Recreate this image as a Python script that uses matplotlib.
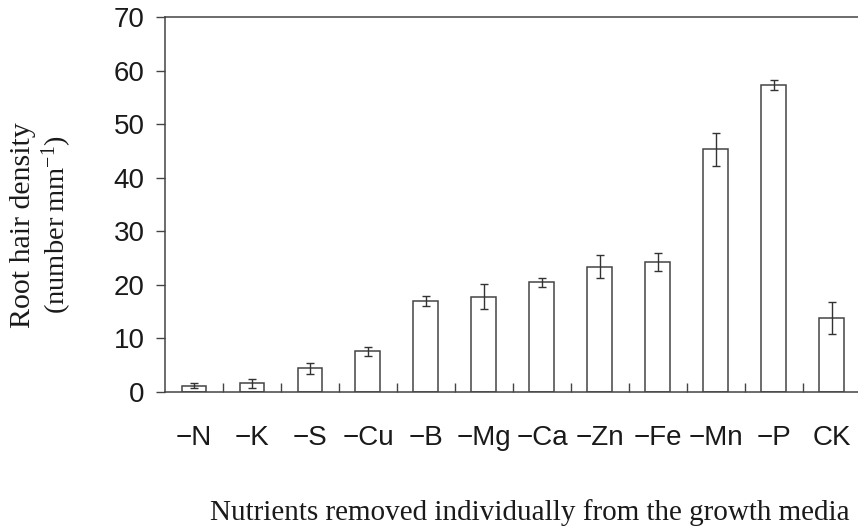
import matplotlib
matplotlib.use("Agg")
import matplotlib.pyplot as plt
from matplotlib.ticker import FixedLocator
import numpy as np

plt.rcParams["mathtext.fontset"] = "custom"
plt.rcParams["mathtext.rm"] = "Liberation Serif"
plt.rcParams["mathtext.it"] = "Liberation Serif:italic"
plt.rcParams["mathtext.bf"] = "Liberation Serif:bold"

categories = ["\u2212N", "\u2212K", "\u2212S", "\u2212Cu", "\u2212B", "\u2212Mg", "\u2212Ca",
              "\u2212Zn", "\u2212Fe", "\u2212Mn", "\u2212P", "CK"]
density = [1.2, 1.6, 4.4, 7.6, 17.0, 17.8, 20.5, 23.4, 24.3, 45.3, 57.3, 13.8]
errors = [0.4, 0.9, 1.1, 0.8, 0.9, 2.35, 0.85, 2.2, 1.65, 3.1, 0.85, 3.0]
yticks = [0, 10, 20, 30, 40, 50, 60, 70]

fig = plt.figure(figsize=(8.58, 5.31), dpi=100)
ax = fig.add_axes([0.1923, 0.2618, 0.8077, 0.7062])

x = np.arange(len(categories))
ax.bar(x, density, width=0.43, color="white", edgecolor="#444444", linewidth=1.1,
       zorder=2)
ax.errorbar(x, density, yerr=errors, fmt="none", ecolor="#333333", elinewidth=1.0,
            capsize=3.2, capthick=1.0, zorder=3)

ax.set_xlim(-0.5, 11.45)
ax.set_ylim(0, 70)
ax.set_yticks(yticks)
ax.set_yticklabels([str(t) for t in yticks], fontsize=20, family="Liberation Sans",
                   color="#1a1a1a")
ax.set_xticks(x)
ax.set_xticklabels(categories, fontsize=20, family="Liberation Sans", color="#1a1a1a")
ax.tick_params(axis="x", which="major", length=0, pad=24)
ax.xaxis.set_minor_locator(FixedLocator(np.arange(0.5, 11, 1.0)))
ax.tick_params(axis="x", which="minor", direction="in", length=6.5, width=1.0,
               color="#444444")
ax.tick_params(axis="y", which="major", direction="out", length=6.5, width=1.0,
               color="#444444", pad=8)

for s in ["left", "bottom", "top"]:
    ax.spines[s].set_color("#444444")
    ax.spines[s].set_linewidth(1.1)
ax.spines["right"].set_visible(False)

fig.text(0.027, 0.576, "Root hair density", rotation=90, ha="center", va="center",
         fontsize=21.5, family="Liberation Serif", color="#1a1a1a")
fig.text(0.066, 0.577, "(number\u2009mm$^{\\mathrm{-1}}$)", rotation=90, ha="center",
         va="center", fontsize=20.5, family="Liberation Serif", color="#1a1a1a")
fig.text(0.618, 0.035, "Nutrients removed individually from the growth media",
         ha="center", va="center", fontsize=21, family="Liberation Serif",
         color="#1a1a1a")

fig.savefig("out.png", dpi=100)
